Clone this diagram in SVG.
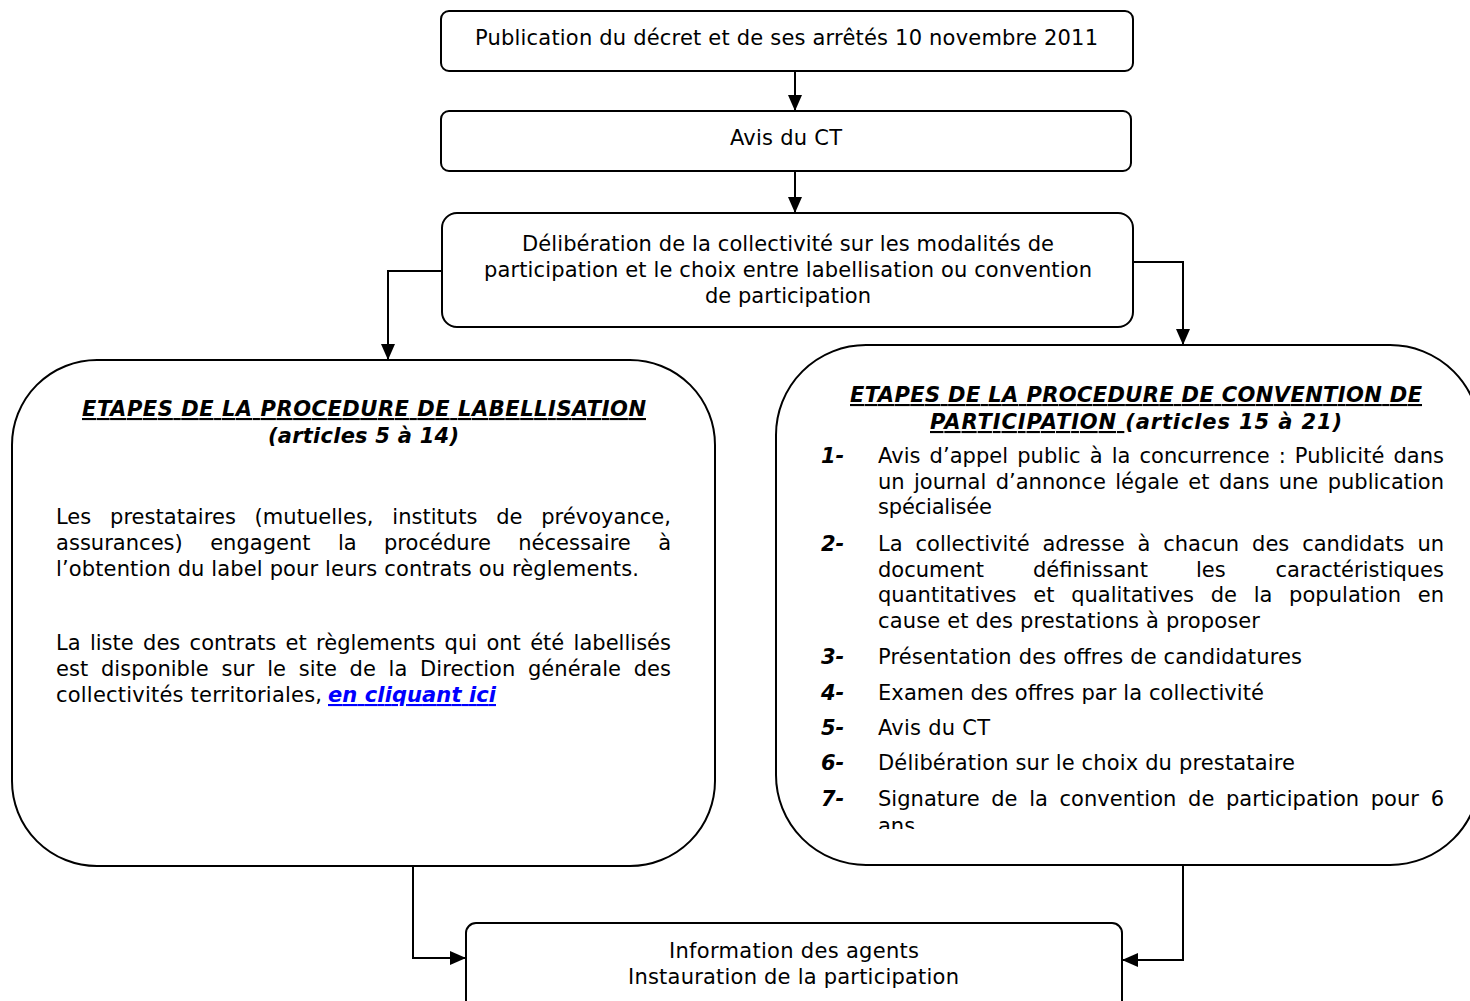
<svg xmlns="http://www.w3.org/2000/svg" width="1470" height="1001" viewBox="0 0 1470 1001">
<style>
.t{font-family:"DejaVu Sans",Verdana,"Liberation Sans",sans-serif;font-size:21px;fill:#000}
.b{font-weight:bold;font-style:italic}
.u{text-decoration:underline}
.m{text-anchor:middle}
.box{fill:#fff;stroke:#000;stroke-width:2}
.c{fill:none;stroke:#000;stroke-width:2}
.lnk{fill:#0000ff;font-weight:bold;font-style:italic;text-decoration:underline}
</style>
<defs>
<marker id="ah" viewBox="0 0 16 14" refX="16" refY="7" markerWidth="16" markerHeight="14" markerUnits="userSpaceOnUse" orient="auto">
<path d="M0,0 L16,7 L0,14 z" fill="#000"/>
</marker>
<clipPath id="clipR"><rect x="770" y="340" width="700" height="489"/></clipPath>
</defs>

<g id="n1">
<rect class="box" x="441" y="11" width="692" height="60" rx="8"/>
<text class="t" x="475" y="45" textLength="623" lengthAdjust="spacing">Publication du décret et de ses arrêtés 10 novembre 2011</text>
</g>

<g id="n2">
<rect class="box" x="441" y="111" width="690" height="60" rx="8"/>
<text class="t" x="730" y="145" textLength="112" lengthAdjust="spacing">Avis du CT</text>
</g>

<g id="n3">
<rect class="box" x="442" y="213" width="691" height="114" rx="15"/>
<text class="t" x="522" y="251" textLength="532" lengthAdjust="spacing">Délibération de la collectivité sur les modalités de</text>
<text class="t" x="484" y="277" textLength="608" lengthAdjust="spacing">participation et le choix entre labellisation ou convention</text>
<text class="t" x="705" y="303" textLength="166" lengthAdjust="spacing">de participation</text>
</g>

<g id="n4">
<rect class="box" x="12" y="360" width="703" height="506" rx="85"/>
<text class="t b u" x="82" y="416" textLength="564" lengthAdjust="spacing">ETAPES DE LA PROCEDURE DE LABELLISATION</text>
<text class="t b" x="268" y="443" textLength="191" lengthAdjust="spacing">(articles 5 à 14)</text>
<text class="t" x="56" y="524" style="word-spacing:12px" textLength="615" lengthAdjust="spacing">Les prestataires (mutuelles, instituts de prévoyance,</text>
<text class="t" x="56" y="550" style="word-spacing:20.6px" textLength="615" lengthAdjust="spacing">assurances) engagent la procédure nécessaire à</text>
<text class="t" x="56" y="576" textLength="583" lengthAdjust="spacing">l’obtention du label pour leurs contrats ou règlements.</text>
<text class="t" x="56" y="650" style="word-spacing:2.6px" textLength="615" lengthAdjust="spacing">La liste des contrats et règlements qui ont été labellisés</text>
<text class="t" x="56" y="676" style="word-spacing:6px" textLength="615" lengthAdjust="spacing">est disponible sur le site de la Direction générale des</text>
<text class="t" x="56" y="702" textLength="266" lengthAdjust="spacing">collectivités territoriales,</text>
<text class="t lnk" x="328" y="702" textLength="168" lengthAdjust="spacing">en cliquant ici</text>
</g>

<g id="n5">
<rect class="box" x="776" y="345" width="704" height="520" rx="90"/>
<text class="t b u" x="850" y="402" textLength="572" lengthAdjust="spacing">ETAPES DE LA PROCEDURE DE CONVENTION DE</text>
<text class="t b" x="930" y="429" textLength="412" lengthAdjust="spacing"><tspan class="u">PARTICIPATION </tspan>(articles 15 à 21)</text>
<g clip-path="url(#clipR)">
<text class="t b" x="821" y="463">1-</text>
<text class="t" x="878" y="463" style="word-spacing:2.3px" textLength="566" lengthAdjust="spacing">Avis d’appel public à la concurrence : Publicité dans</text>
<text class="t" x="878" y="489" style="word-spacing:2.7px" textLength="566" lengthAdjust="spacing">un journal d’annonce légale et dans une publication</text>
<text class="t" x="878" y="514" textLength="114" lengthAdjust="spacing">spécialisée</text>
<text class="t b" x="821" y="551">2-</text>
<text class="t" x="878" y="551" style="word-spacing:6.2px" textLength="566" lengthAdjust="spacing">La collectivité adresse à chacun des candidats un</text>
<text class="t" x="878" y="577">document</text>
<text class="t" x="1033" y="577">définissant</text>
<text class="t" x="1196" y="577">les</text>
<text class="t" x="1444" y="577" text-anchor="end">caractéristiques</text>
<text class="t" x="878" y="602" style="word-spacing:10px" textLength="566" lengthAdjust="spacing">quantitatives et qualitatives de la population en</text>
<text class="t" x="878" y="628" textLength="382" lengthAdjust="spacing">cause et des prestations à proposer</text>
<text class="t b" x="821" y="664">3-</text>
<text class="t" x="878" y="664" textLength="424" lengthAdjust="spacing">Présentation des offres de candidatures</text>
<text class="t b" x="821" y="700">4-</text>
<text class="t" x="878" y="700" textLength="386" lengthAdjust="spacing">Examen des offres par la collectivité</text>
<text class="t b" x="821" y="735">5-</text>
<text class="t" x="878" y="735" textLength="112" lengthAdjust="spacing">Avis du CT</text>
<text class="t b" x="821" y="770">6-</text>
<text class="t" x="878" y="770" textLength="417" lengthAdjust="spacing">Délibération sur le choix du prestataire</text>
<text class="t b" x="821" y="806">7-</text>
<text class="t" x="878" y="806" style="word-spacing:4.9px" textLength="566" lengthAdjust="spacing">Signature de la convention de participation pour 6</text>
<text class="t" x="878" y="833">ans</text>
</g>
</g>

<g id="n6">
<rect class="box" x="466" y="923" width="656" height="110" rx="10"/>
<text class="t" x="669" y="958" textLength="250" lengthAdjust="spacing">Information des agents</text>
<text class="t" x="628" y="984" textLength="331" lengthAdjust="spacing">Instauration de la participation</text>
</g>

<g id="connectors">
<path class="c" d="M795,71 V111" marker-end="url(#ah)"/>
<path class="c" d="M795,171 V213" marker-end="url(#ah)"/>
<path class="c" d="M441,271 H388 V360" marker-end="url(#ah)"/>
<path class="c" d="M1133,262 H1183 V345" marker-end="url(#ah)"/>
<path class="c" d="M413,866 V958 H466" marker-end="url(#ah)"/>
<path class="c" d="M1183,866 V960 H1122" marker-end="url(#ah)"/>
</g>
</svg>
